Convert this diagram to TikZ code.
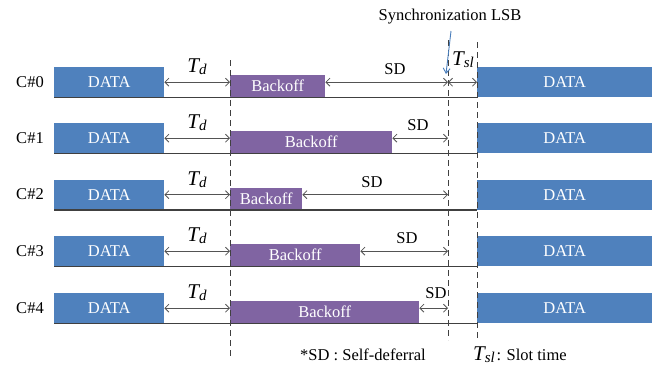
\documentclass[tikz,border=0pt]{standalone}
\usepackage{fontspec}
\setmainfont{Liberation Serif}
\usetikzlibrary{arrows.meta}
\definecolor{datablue}{HTML}{4F81BD}
\definecolor{bopurple}{HTML}{8064A2}
\definecolor{linegray}{HTML}{404040}
\definecolor{syncblue}{HTML}{4A7EBB}
\newcommand{\tsub}[2]{{\fontsize{21}{21}\selectfont\itshape #1}\raisebox{-0.45ex}{\fontsize{15}{15}\selectfont\itshape #2}}
\tikzset{
  databox/.style={fill=datablue, draw=none, text=white, inner sep=0pt,
    font=\fontsize{16.5}{16.5}\selectfont},
  bobox/.style={fill=bopurple, draw=none, text=white, inner sep=0pt,
    font=\fontsize{16.5}{16.5}\selectfont},
  lbl/.style={inner sep=0pt, font=\fontsize{16.5}{16.5}\selectfont, text=black},
  base/.style={draw=linegray, line width=1.3pt},
  dim/.style={draw=linegray!90, line width=0.8pt, {Straight Barb[length=4pt,width=8pt]}-{Straight Barb[length=4pt,width=8pt]}},
  guide/.style={draw=linegray, line width=0.8pt, dash pattern=on 6pt off 4pt},
}
\begin{document}
\begin{tikzpicture}[x=1pt, y=-1pt]
  \useasboundingbox (0,0) rectangle (654,367);
  % slot boundaries
  \coordinate (g0) at (230,0);
  \coordinate (g1) at (448,0);
  \coordinate (g2) at (477,0);
  % stations: index / top of row / right edge of backoff / SD label x / SD label lift
  \foreach \i/\t/\b/\s/\u in {0/67/325/395/13, 1/123/392/418/13, 2/179.5/302/372/12, 3/236/360/407/13, 4/293/419/436/15}{
    \node[databox, minimum width=110pt, minimum height=30pt, anchor=north west]
      (dl\i) at (54,\t) {DATA};
    \node[databox, minimum width=175pt, minimum height=30pt, anchor=north west]
      (dr\i) at (477,\t) {DATA};
    \path (230,\t+8) coordinate (bnw\i);
    \node[bobox, minimum width={\b-230}, minimum height=22pt, anchor=north west]
      (bo\i) at (bnw\i) {Backoff};
    \node[lbl] (c\i) at (30,\t+15) {C\#\i};
    % time line of the station
    \draw[base] (dl\i.south west) -- (dr\i.south west);
    % inter-frame delay
    \draw[dim] (dl\i.east) -- (dl\i.east -| bo\i.west);
    \node[inner sep=0pt] (td\i) at (197,\t) {\tsub{T}{d}};
    % self-deferral
    \draw[dim] (dl\i.east -| bo\i.east) -- (dl\i.east -| g1);
    \node[lbl] (sd\i) at (\s,\t+15-\u) {SD};
  }
  % slot time on the first station
  \draw[dim] (dl0.east -| g1) -- (dl0.east -| g2);
  \node[inner sep=0pt] (tsl) at (463,60) {\tsub{T}{sl}};
  % guide lines
  \draw[guide] (230,60) -- (230,358);
  \draw[guide] (448,40) -- (448,340);
  \draw[guide] (477,42) -- (477,340);
  % synchronization marker
  \node[lbl] (sync) at (450,17) {Synchronization LSB};
  \coordinate (synctip) at (446,74);
  \draw[syncblue, line width=0.9pt, -{Straight Barb[length=5pt,width=7pt]}] (451,31) -- (synctip);
  % legend
  \node[lbl, anchor=west] (leg1) at (300,355) {*SD : Self-deferral};
  \node[inner sep=0pt, anchor=west] (leg2) at (473,355) {\tsub{T}{sl}\,{\fontsize{16.5}{16.5}\selectfont : Slot time}};
\end{tikzpicture}
\end{document}
